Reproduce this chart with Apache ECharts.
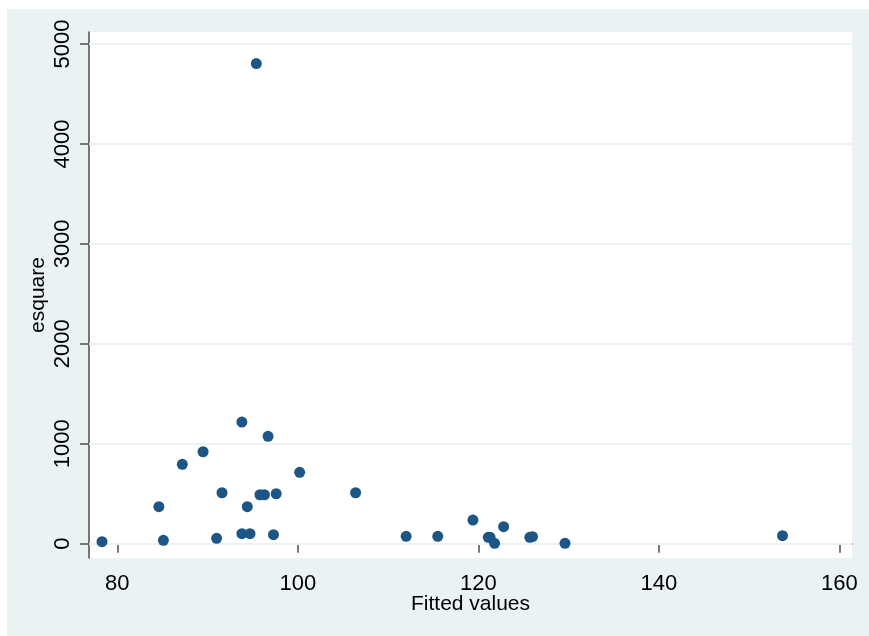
<!DOCTYPE html>
<html>
<head>
<meta charset="utf-8">
<script src="https://cdn.jsdelivr.net/npm/echarts@6/dist/echarts.min.js"></script>
<style>
html,body{margin:0;padding:0;background:#ffffff;}
#chart{width:869px;height:636px;}
</style>
</head>
<body>
<div id="chart"></div>
<script>
// Data
var fittedValues = [78.3, 84.6, 85.1, 87.2, 89.5, 91.0, 91.6, 93.8, 93.8, 94.7, 94.4, 95.8, 96.3, 96.7, 97.3, 97.6, 100.2, 106.4, 112.0, 115.5, 119.4, 121.1, 121.3, 121.8, 122.8, 125.7, 126.0, 129.6, 153.7, 95.4];
var esquare = [20, 370, 34, 794, 920, 54, 510, 1217, 100, 100, 370, 490, 490, 1074, 90, 500, 714, 510, 74, 74, 237, 64, 64, 4, 170, 64, 70, 4, 80, 4804];
var xTicks = [80, 100, 120, 140, 160];
var yTicks = [0, 1000, 2000, 3000, 4000, 5000];

var points = fittedValues.map(function (x, i) { return [x, esquare[i]]; });

var chart = echarts.init(document.getElementById('chart'));
var font = 'Liberation Sans, Arial, sans-serif';
var axisColor = '#4d4d4d';
chart.setOption({
  animation: false,
  backgroundColor: '#ffffff',
  graphic: [{
    type: 'rect', z: -10, silent: true,
    shape: { x: 7, y: 9, width: 862, height: 627 },
    style: { fill: '#eaf2f3' }
  }],
  grid: { left: 89, top: 32, right: 17, bottom: 78, show: true, backgroundColor: '#ffffff', borderWidth: 0 },
  xAxis: {
    type: 'value',
    min: 76.86, max: 161.4,
    name: 'Fitted values', nameLocation: 'middle', nameGap: 36, nameMoveOverlap: false,
    nameTextStyle: { fontFamily: font, fontSize: 21, color: '#000' },
    axisLine: { show: true, lineStyle: { color: axisColor, width: 1.5 } },
    axisTick: { show: true, length: 9, lineStyle: { color: axisColor, width: 1.5 }, customValues: xTicks },
    axisLabel: { fontFamily: font, fontSize: 22, color: '#000', margin: 15, customValues: xTicks,
      formatter: function (v) { return String(v); } },
    splitLine: { show: false }
  },
  yAxis: {
    type: 'value',
    min: -143, max: 5120,
    name: 'esquare', nameLocation: 'middle', nameGap: 40, nameRotate: 90, nameMoveOverlap: false,
    nameTextStyle: { fontFamily: font, fontSize: 21, color: '#000' },
    axisLine: { show: true, lineStyle: { color: axisColor, width: 1.5 } },
    axisTick: { show: true, length: 9, lineStyle: { color: axisColor, width: 1.5 }, customValues: yTicks },
    axisLabel: { fontFamily: font, fontSize: 22, color: '#000', margin: 15, rotate: 90, customValues: yTicks,
      formatter: function (v) { return String(v); } },
    splitLine: { show: false }
  },
  series: [{
    type: 'scatter',
    data: points,
    symbol: 'circle',
    symbolSize: 11,
    itemStyle: { color: '#1d5584', opacity: 1 },
    z: 5,
    markLine: {
      silent: true,
      symbol: ['none', 'none'],
      label: { show: false },
      lineStyle: { color: '#eaf2f3', width: 2, type: 'solid' },
      z: 1,
      data: yTicks.map(function (v) { return { yAxis: v }; })
    }
  }]
});
</script>
</body>
</html>
